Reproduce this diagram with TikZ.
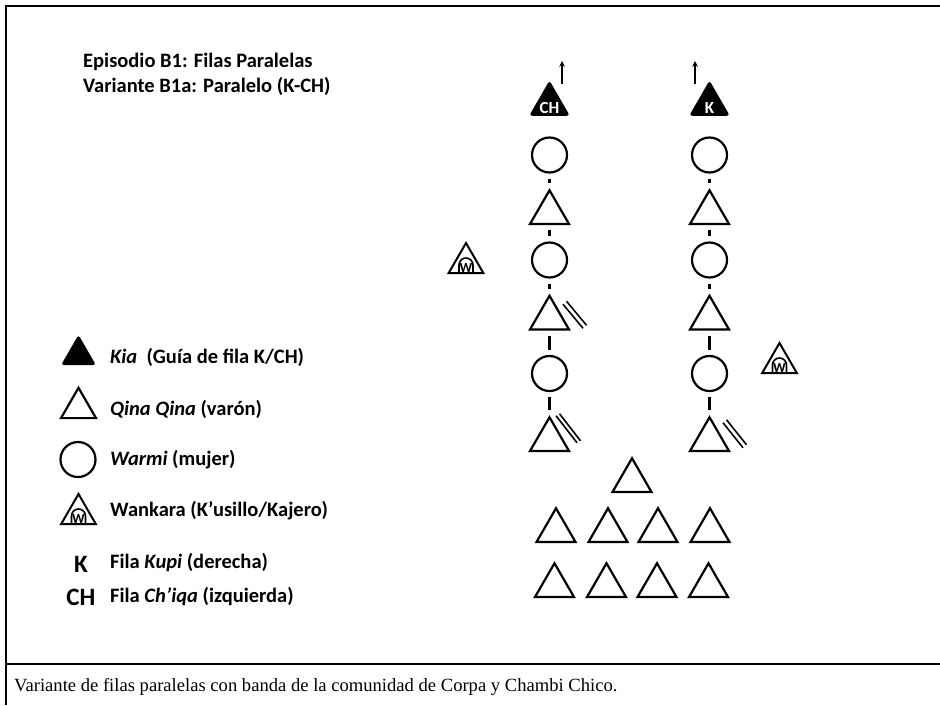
\documentclass[tikz,border=0pt]{standalone}
\usepackage{fontspec}
\setmainfont{Liberation Serif}
\newfontfamily\calibri{Carlito}
\usetikzlibrary{shapes.geometric,arrows}

\tikzset{%
        mujer/.style={
            circle,
            draw,
            line width=2.2pt,
            minimum size=35pt,
            inner sep=0pt
        },
        varon/.style={
            regular polygon,
            regular polygon sides=3,
            draw,
            line width=2.2pt,
            minimum size=45pt,
            inner sep=0pt
        },
        kia/.style={
            regular polygon,
            regular polygon sides=3,
            fill=black,
            rounded corners=3pt,
            minimum size=47pt,
            inner sep=0pt
        },
        wankara/.style={
            regular polygon,
            regular polygon sides=3,
            draw,
            line width=2pt,
            minimum size=40pt,
            inner sep=0pt,
            path picture={\draw[line width=1.6pt] (-7pt,-10pt) -- (-7pt,-2pt) arc (180:0:7pt) -- (7pt,-10pt);},
            label={[font=\calibri\bfseries\fontsize{14}{14}\selectfont, yshift=-5pt]center:W}
        },
        enlace/.style={line width=2.2pt, shorten >=5pt, shorten <=5pt},
        marca/.style={line width=1.6pt},
        leyenda/.style={anchor=base west, inner sep=0pt, font=\calibri\bfseries\fontsize{20.5}{24}\selectfont},
    }

\begin{document}
\begin{tikzpicture}[x=1pt, y=-1pt, >=stealth]
        \useasboundingbox (0,0) rectangle (940,705);

        \draw[line width=1.5pt] (940,6) -- (6,6) -- (6,705);
        \draw[line width=1.5pt] (6,664) -- (940,664);

        \node[leyenda] (titulo-1) at (83,67) {Episodio B1: Filas Paralelas};
        \node[leyenda] (titulo-2) at (83,92) {Variante B1a: Paralelo (K-CH)};

        \foreach \f/\l/\x/\a in {ch/CH/549.5/562, k/K/709.5/695} {
            \node[kia, label={[text=white, font=\calibri\bfseries\fontsize{17}{17}\selectfont, yshift=-4pt]center:\l}] (\f-kia) at (\x,104) {};
            \coordinate (\f-base) at (\a,84);
            \coordinate (\f-punta) at (\a,61);
            \draw[->, line width=1.5pt] (\f-base) -- (\f-punta);

            \foreach \y [count=\i] in {155,260,373.5}
            \node[mujer] (\f-c\i) at (\x,\y) {};

            \foreach \y [count=\i] in {212.75,318.25,439.75}
            \node[varon] (\f-t\i) at (\x,\y) {};

            \foreach \i/\j in {c1/t1, t1/c2, c2/t2, t2/c3, c3/t3}
                \draw[enlace] (\f-\i) -- (\f-\j);
        }

        \draw[marca, shift={(ch-t2)}] (13.5,-14) -- ++(20,24) (17,-17) -- ++(20,24);
        \draw[marca, shift={(ch-t3)}] (6.5,-24) -- ++(21,27) (10,-26) -- ++(21,27);
        \draw[marca, shift={(k-t3)}] (13.5,-17) -- ++(20,25) (17,-20) -- ++(20,25);

        \node[wankara] (w-izq) at (466,263) {};
        \node[wankara] (w-der) at (779.5,363) {};

        \node[varon] (banda-0) at (632,480.75) {};
        \foreach \x [count=\i] in {556,608,658,710}
        \node[varon] (banda-a\i) at (\x,530.75) {};
        \foreach \x [count=\i] in {554.5,606.5,657,708.5}
        \node[varon] (banda-b\i) at (\x,585.75) {};

        \node[kia, minimum size=40.4pt] (ley-kia) at (78.5,355) {};
        \node[varon, minimum size=40.4pt] (ley-varon) at (78.5,408) {};
        \node[mujer] (ley-mujer) at (78,459.5) {};
        \node[wankara] (ley-wankara) at (78.5,514) {};
        \node[anchor=base, inner sep=0pt, font=\calibri\bfseries\fontsize{25}{25}\selectfont] (ley-k) at (81,572) {K};
        \node[anchor=base, inner sep=0pt, font=\calibri\bfseries\fontsize{25}{25}\selectfont] (ley-ch) at (81,605) {CH};

        \node[leyenda] (txt-kia) at (110,363) {\textit{Kia}\ \ (Guía de fila K/CH)};
        \node[leyenda] (txt-varon) at (110,415) {\textit{Qina Qina} (varón)};
        \node[leyenda] (txt-mujer) at (110,465) {\textit{Warmi} (mujer)};
        \node[leyenda] (txt-wankara) at (110,516) {Wankara (K’usillo/Kajero)};
        \node[leyenda] (txt-k) at (110,568) {Fila \textit{Kupi} (derecha)};
        \node[leyenda] (txt-ch) at (110,602) {Fila \textit{Ch’iqa} (izquierda)};

        \node[anchor=base west, inner sep=0pt, font=\fontsize{18.6}{22}\selectfont] (pie) at (14,691) {Variante de filas paralelas con banda de la comunidad de Corpa y Chambi Chico.};
    \end{tikzpicture}
\end{document}
